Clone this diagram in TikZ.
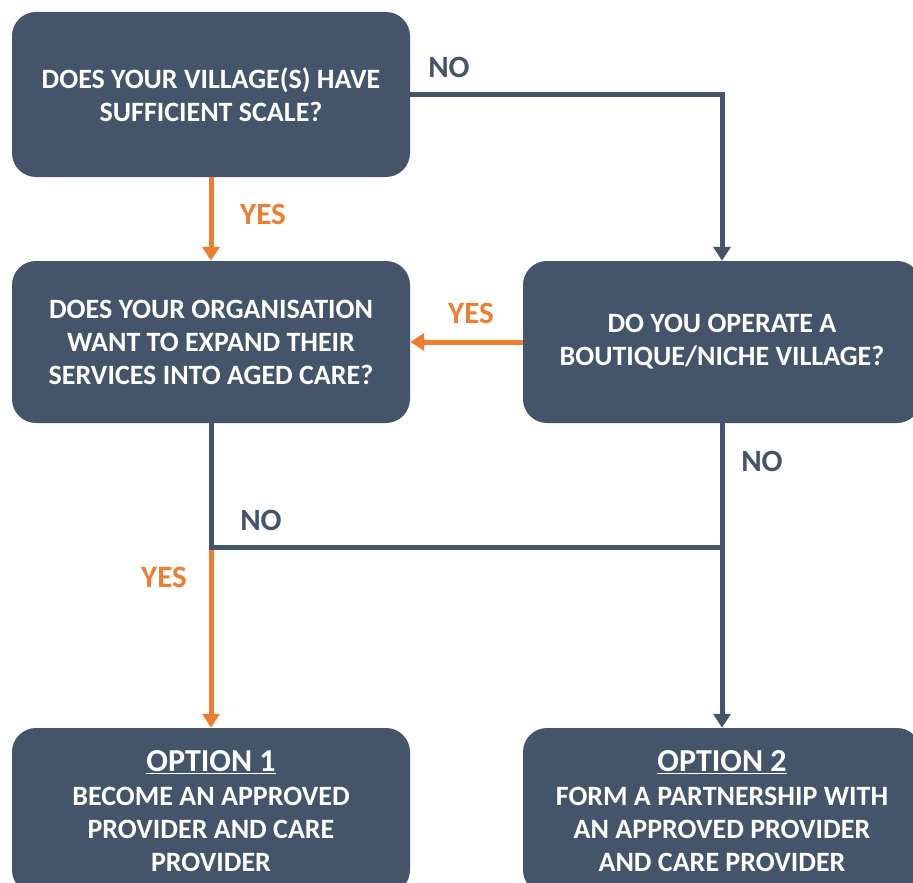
\documentclass[tikz,border=0pt]{standalone}
\usepackage{fontspec}
\setmainfont{Carlito}
\usetikzlibrary{arrows.meta}
\definecolor{slate}{HTML}{44546A}
\definecolor{tangerine}{HTML}{ED7D31}
\newcommand{\optionhead}[1]{{\fontsize{32}{36}\selectfont\underline{#1}}}

\begin{document}
\begin{tikzpicture}[
        x=1pt, y=-1pt,
        box/.style={fill=slate, rounded corners=24pt, minimum width=398pt, minimum height=165pt,
            text=white, align=center, inner sep=0pt, font=\fontsize{28}{33}\selectfont\bfseries},
        lbl/.style={inner sep=0pt, font=\fontsize{31}{34}\selectfont\bfseries},
        nolbl/.style={lbl, text=slate},
        yeslbl/.style={lbl, text=tangerine},
        flow/.style={draw, line width=5pt, -{Triangle[width=17pt,length=14pt]}},
        noline/.style={flow, slate},
        yesline/.style={flow, tangerine},
    ]
    \fill[white] (0,0) rectangle (913,883);
    \clip (0,0) rectangle (913,883);
    % questions
    \node[box](scale) at (211,94.5){DOES YOUR VILLAGE(S) HAVE\\SUFFICIENT SCALE?};
    \node[box, minimum height=162pt](expand) at (211,342){DOES YOUR ORGANISATION\\WANT TO EXPAND THEIR\\SERVICES INTO AGED CARE?};
    \node[box, minimum height=162pt](boutique) at (722,342){DO YOU OPERATE A\\BOUTIQUE/NICHE VILLAGE?};
    % options
    \node[box, minimum height=166pt](opt1) at (211,811){\optionhead{OPTION 1}\\[1pt]BECOME AN APPROVED\\PROVIDER AND CARE\\PROVIDER};
    \node[box, minimum height=166pt](opt2) at (722,811){\optionhead{OPTION 2}\\[1pt]FORM A PARTNERSHIP WITH\\AN APPROVED PROVIDER\\AND CARE PROVIDER};
    \coordinate (join) at (211,547);
    % connectors
    \draw[noline] (scale.east) -| (boutique.north);
    \draw[yesline] (scale.south) -- (expand.north);
    \draw[yesline] (boutique.west) -- (expand.east);
    \draw[yesline] (join) -- (opt1.north);
    \draw[slate, line width=5pt] (expand.south) -- (join) -- (join -| boutique);
    \draw[noline] (boutique.south) -- (opt2.north);
    % labels
    \node[nolbl](no1) at (449,67){NO};
    \node[yeslbl](yes1) at (263,214){YES};
    \node[yeslbl](yes2) at (471,313){YES};
    \node[nolbl](no2) at (762,461){NO};
    \node[nolbl](no3) at (261,520){NO};
    \node[yeslbl](yes3) at (164,577){YES};
\end{tikzpicture}
\end{document}
